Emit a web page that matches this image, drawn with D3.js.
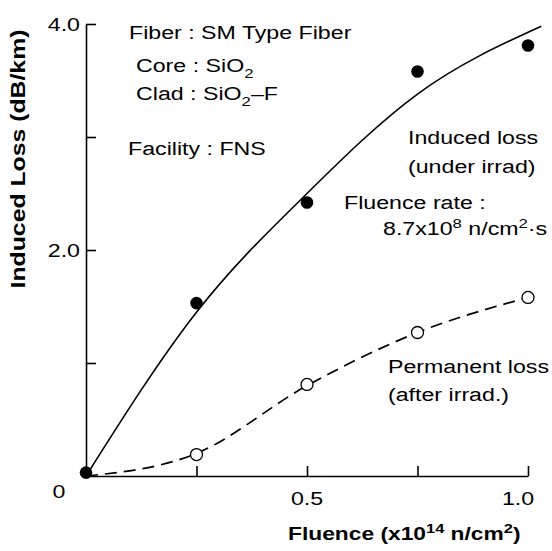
<!DOCTYPE html>
<html>
<head>
<meta charset="utf-8">
<script src="https://cdn.jsdelivr.net/npm/d3@7"></script>
<style>
  html, body { margin: 0; padding: 0; background: #fff; }
  svg { display: block; font-family: "Liberation Sans", Arial, sans-serif; }
</style>
</head>
<body>
<svg id="chart" width="552" height="551"></svg>
<script>
const fluence = [0, 0.25, 0.5, 0.75, 1.0];
const inducedLoss = [0.03, 1.53, 2.42, 3.58, 3.81];
const permFluence = [0.25, 0.5, 0.75, 1.0];
const permLoss = [0.19, 0.81, 1.27, 1.58];

// hand drawn fit curves
const inducedFitX = [0, 0.25, 0.5, 0.75, 1.03];
const inducedFitY = [0, 1.45, 2.5, 3.38, 3.98];
const permFitX = [0, 0.25, 0.5, 0.75, 1.0];
const permFitY = [0, 0.2, 0.8, 1.27, 1.58];

const xTicks = [0.25, 0.5, 0.75, 1.0];
const xTickLabels = {0.5: "0.5", 1.0: "1.0"};
const yTicks = [1, 2, 3, 4];
const yTickLabels = {2: "2.0", 4: "4.0"};

const sx = 1.22;   // the scanned lettering is wide

let svg = d3.select("#chart");

let xScale = d3.scaleLinear().domain([0, 1]).range([86, 528]);
let yScale = d3.scaleLinear().domain([0, 4]).range([476, 24]);

// axes, ticks pointing inwards
let x_axis = d3.axisBottom(xScale).tickValues(xTicks)
  .tickSizeInner(-10).tickSizeOuter(0).tickFormat("");
let y_axis = d3.axisLeft(yScale).tickValues(yTicks)
  .tickSizeInner(-10).tickSizeOuter(0).tickFormat("");

svg.append("g")
  .attr("transform", `translate(0, ${yScale(0)})`)
  .call(x_axis)
  .call(g => g.selectAll("path, line").attr("stroke", "#000").attr("stroke-width", 1.6));
svg.append("g")
  .attr("transform", `translate(${xScale(0)}, 0)`)
  .call(y_axis)
  .call(g => g.selectAll("path, line").attr("stroke", "#000").attr("stroke-width", 1.6));

// text helper: parts are [string, "sub"|"sup"|undefined]
function label(x, y, parts, opts) {
  opts = opts || {};
  let size = opts.size || 19;
  let g = svg.append("g")
    .attr("transform", `translate(${x}, ${y}) rotate(${opts.rotate || 0}) scale(${opts.sx || sx}, 1)`);
  let t = g.append("text")
    .attr("font-size", size)
    .attr("font-weight", opts.bold ? "bold" : "normal")
    .attr("text-anchor", opts.anchor || "start")
    .attr("fill", "#000");
  let shift = 0;
  parts.forEach(p => {
    let s = typeof p === "string" ? [p] : p;
    let target = 0;
    let fs = size;
    if (s[1] === "sub") { target = size * 0.3; fs = size * 0.72; }
    if (s[1] === "sup") { target = -size * 0.38; fs = size * 0.72; }
    t.append("tspan")
      .attr("dy", target - shift)
      .attr("font-size", fs)
      .text(s[0]);
    shift = target;
  });
  return t;
}

// tick labels
xTicks.filter(v => xTickLabels[v]).forEach(v => {
  label(xScale(v) - (v === 1 ? 10 : 0), yScale(0) + 29, [xTickLabels[v]], {anchor: "middle"});
});
yTicks.filter(v => yTickLabels[v]).forEach(v => {
  label(xScale(0) - 6, yScale(v) + 7, [yTickLabels[v]], {anchor: "end"});
});
label(xScale(0) - 27, yScale(0) + 22, ["0"], {anchor: "middle"});

// axis titles
label(288, 540, ["Fluence (x10", ["14", "sup"], " n/cm", ["2", "sup"], ")"], {bold: true, anchor: "start", sx: 1.2});
label(25, 159, ["Induced Loss (dB/km)"], {bold: true, anchor: "middle", rotate: -90, size: 20, sx: 1.24});

// fit curves
let fitLine = d3.line()
  .x(d => xScale(d[0]))
  .y(d => yScale(d[1]))
  .curve(d3.curveMonotoneX);

svg.append("path")
  .attr("fill", "none")
  .attr("stroke", "#000")
  .attr("stroke-width", 1.6)
  .attr("d", fitLine(d3.zip(inducedFitX, inducedFitY)));

svg.append("path")
  .attr("fill", "none")
  .attr("stroke", "#000")
  .attr("stroke-width", 1.7)
  .attr("stroke-dasharray", "12,7")
  .attr("d", fitLine(d3.zip(permFitX, permFitY)));

// points
svg.append("g").selectAll("circle")
  .data(d3.zip(fluence, inducedLoss))
  .join("circle")
  .attr("cx", d => xScale(d[0]))
  .attr("cy", d => yScale(d[1]))
  .attr("r", 6.3)
  .attr("fill", "#000");

svg.append("g").selectAll("circle")
  .data(d3.zip(permFluence, permLoss))
  .join("circle")
  .attr("cx", d => xScale(d[0]))
  .attr("cy", d => yScale(d[1]))
  .attr("r", 6)
  .attr("fill", "#fff")
  .attr("stroke", "#000")
  .attr("stroke-width", 1.3);

// annotations
label(129, 39, ["Fiber : SM Type Fiber"]);
label(136, 72, ["Core : SiO", ["2", "sub"]]);
label(136, 100, ["Clad : SiO", ["2", "sub"], ["\u2013F"]]);
label(128, 155, ["Facility : FNS"]);
label(408, 144, ["Induced loss"]);
label(408, 173, ["(under irrad)"]);
label(344, 209, ["Fluence rate :"]);
label(383, 235, ["8.7x10", ["8", "sup"], " n/cm", ["2", "sup"], "\u00b7s"]);
label(388, 373, ["Permanent loss"]);
label(388, 401, ["(after irrad.)"]);
</script>
</body>
</html>
